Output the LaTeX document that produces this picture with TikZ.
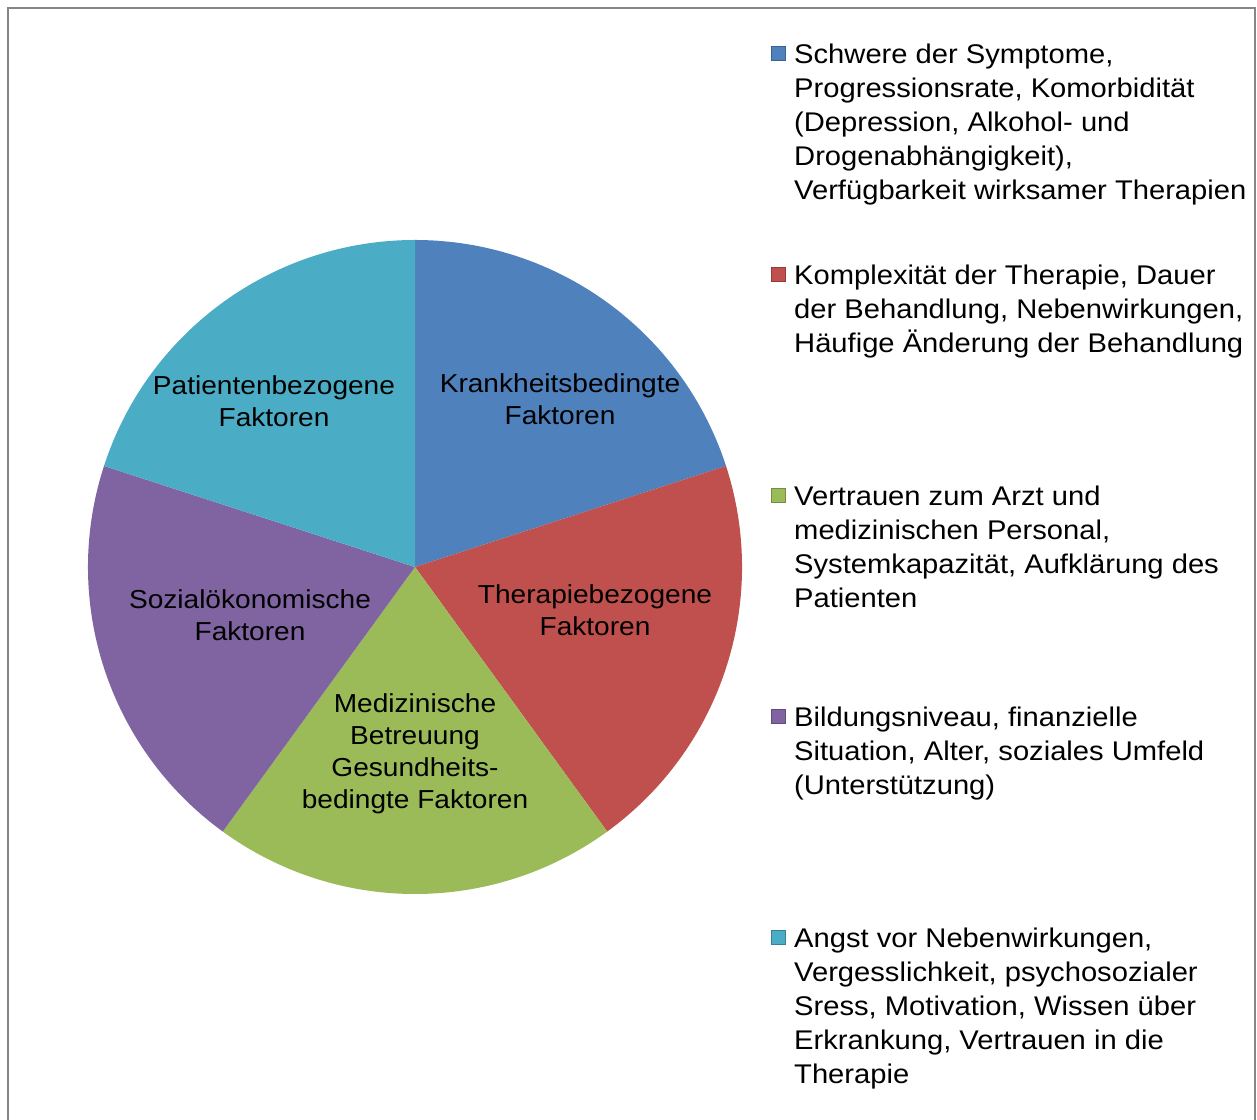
\documentclass[tikz,border=0pt]{standalone}
\usepackage{fontspec}
\setmainfont{Liberation Sans}[FakeStretch=1.08]
\definecolor{sliceBlue}{HTML}{4F81BD}
\definecolor{sliceRed}{HTML}{C0504D}
\definecolor{sliceGreen}{HTML}{9BBB59}
\definecolor{slicePurple}{HTML}{8064A2}
\definecolor{sliceCyan}{HTML}{4BACC6}
\definecolor{frameGray}{HTML}{868686}

\begin{document}
\begin{tikzpicture}[x=1pt, y=1pt,
    slicelabel/.style={align=center, inner sep=0pt, font=\fontsize{26}{32}\selectfont},
    legendtext/.style={anchor=north west, align=left, inner sep=0pt, font=\fontsize{27}{34}\selectfont},
    legendkey/.style={minimum size=14pt, inner sep=0pt, draw=#1!75!black, fill=#1}]

    \useasboundingbox (0,0) rectangle (1257,1119);

    % chart frame
    \draw[frameGray, line width=2pt] (8,-10) -- (8,1111) -- (1255,1111) -- (1255,-10);

    % pie slices
    \coordinate (c) at (415,552);
    \fill[sliceBlue, shift={(c)}] (0,0) -- (90:327) arc[start angle=90, end angle=18, radius=327] -- cycle;
    \fill[sliceRed, shift={(c)}] (0,0) -- (18:327) arc[start angle=18, end angle=-54, radius=327] -- cycle;
    \fill[sliceGreen, shift={(c)}] (0,0) -- (-54:327) arc[start angle=-54, end angle=-126, radius=327] -- cycle;
    \fill[slicePurple, shift={(c)}] (0,0) -- (-126:327) arc[start angle=-126, end angle=-198, radius=327] -- cycle;
    \fill[sliceCyan, shift={(c)}] (0,0) -- (162:327) arc[start angle=162, end angle=90, radius=327] -- cycle;

    % slice labels
    \node[slicelabel] (krank) at (560,720) {Krankheitsbedingte\\Faktoren};
    \node[slicelabel] (therapie) at (595,509) {Therapiebezogene\\Faktoren};
    \node[slicelabel] (medizin) at (415,365) {Medizinische\\Betreuung\\Gesundheits-\\bedingte Faktoren};
    \node[slicelabel] (sozial) at (250,504) {Sozialökonomische\\Faktoren};
    \node[slicelabel] (patient) at (274,718) {Patientenbezogene\\Faktoren};

    % legend
    \node[legendkey=sliceBlue] (keyKrank) at (778,1066) {};
    \node[legendtext] (textKrank) at (794,1075) {Schwere der Symptome,\\Progressionsrate, Komorbidität\\(Depression, Alkohol- und\\Drogenabhängigkeit),\\Verfügbarkeit wirksamer Therapien};

    \node[legendkey=sliceRed] (keyTherapie) at (778,845) {};
    \node[legendtext] (textTherapie) at (794,854) {Komplexität der Therapie, Dauer\\der Behandlung, Nebenwirkungen,\\Häufige Änderung der Behandlung};

    \node[legendkey=sliceGreen] (keyMedizin) at (778,624) {};
    \node[legendtext] (textMedizin) at (794,633) {Vertrauen zum Arzt und\\medizinischen Personal,\\Systemkapazität, Aufklärung des\\Patienten};

    \node[legendkey=slicePurple] (keySozial) at (778,403) {};
    \node[legendtext] (textSozial) at (794,412) {Bildungsniveau, finanzielle\\Situation, Alter, soziales Umfeld\\(Unterstützung)};

    \node[legendkey=sliceCyan] (keyPatient) at (778,182) {};
    \node[legendtext] (textPatient) at (794,191) {Angst vor Nebenwirkungen,\\Vergesslichkeit, psychosozialer\\Sress, Motivation, Wissen über\\Erkrankung, Vertrauen in die\\Therapie};

\end{tikzpicture}
\end{document}
